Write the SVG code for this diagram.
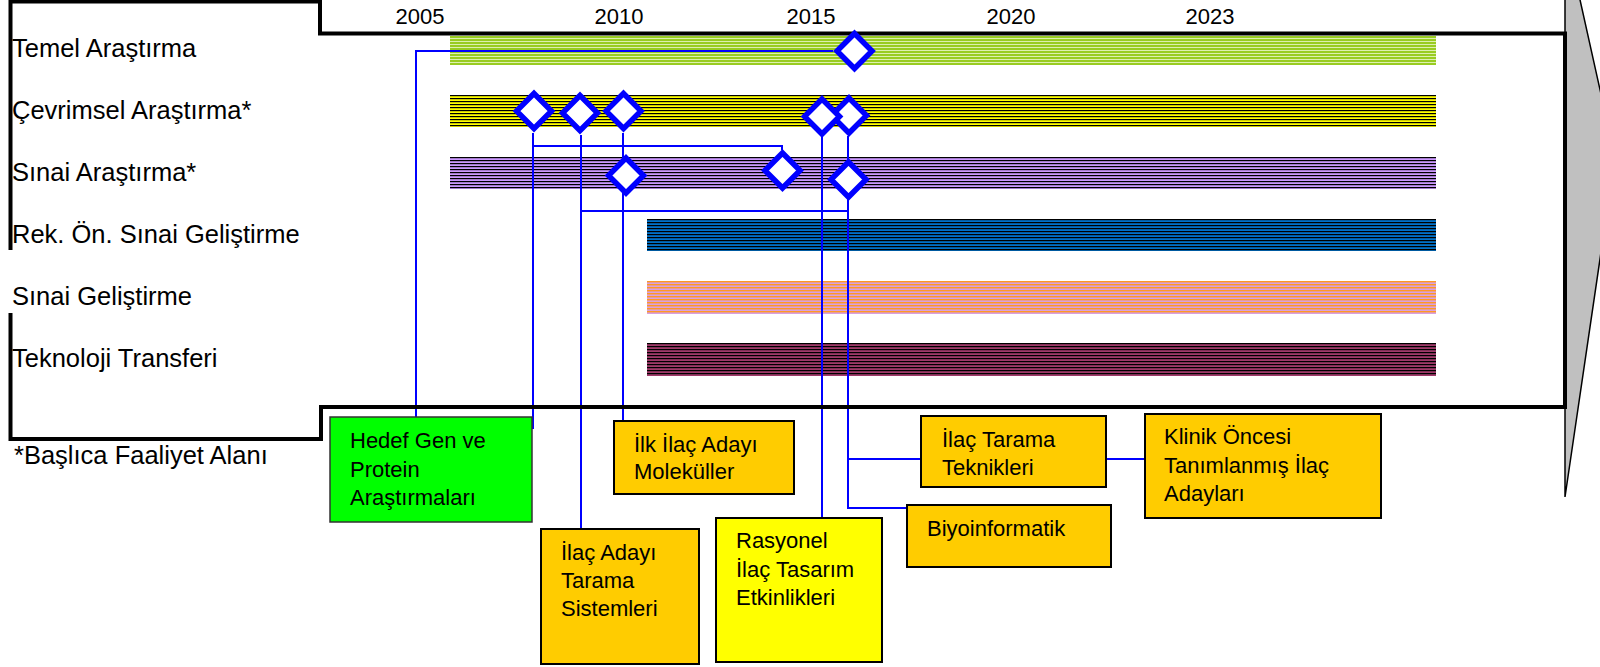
<svg xmlns="http://www.w3.org/2000/svg" width="1600" height="667" viewBox="0 0 1600 667">
<defs>
<style>
.lbl{font-family:"Liberation Sans",Arial,sans-serif;font-size:25.5px;fill:#000}
.yr{font-family:"Liberation Sans",Arial,sans-serif;font-size:22px;fill:#000;text-anchor:middle}
.bt{font-family:"Liberation Sans",Arial,sans-serif;font-size:22px;fill:#000}
.frame{fill:none;stroke:#000;stroke-width:4;stroke-linejoin:miter}
.con{fill:none;stroke:#0000FF;stroke-width:2}
.dia{fill:#fff;stroke:#0000FF;stroke-width:5.5;stroke-linejoin:miter}
.box{stroke:#000;stroke-width:2}
.or{fill:#FFCC00}
</style>
<pattern id="pGreen" patternUnits="userSpaceOnUse" x="0" y="36" width="4" height="3"><rect width="4" height="3" fill="#DDF0B0"/><rect width="4" height="2" fill="#99CC22"/></pattern>
<pattern id="pYellow" patternUnits="userSpaceOnUse" x="0" y="95" width="4" height="3"><rect width="4" height="3" fill="#FFFF00"/><rect width="4" height="1.2" fill="#000"/></pattern>
<pattern id="pPurple" patternUnits="userSpaceOnUse" x="0" y="157" width="4" height="3"><rect width="4" height="3" fill="#CC99FF"/><rect width="4" height="1.2" fill="#000"/></pattern>
<pattern id="pBlue" patternUnits="userSpaceOnUse" x="0" y="219" width="4" height="3"><rect width="4" height="3" fill="#0070C8"/><rect width="4" height="1.2" fill="#000"/></pattern>
<pattern id="pOrange" patternUnits="userSpaceOnUse" x="0" y="281" width="4" height="3"><rect width="4" height="3" fill="#D8A0E0"/><rect width="4" height="1.4" fill="#FF9922"/></pattern>
<pattern id="pMaroon" patternUnits="userSpaceOnUse" x="0" y="343" width="4" height="3"><rect width="4" height="3" fill="#A03A6A"/><rect width="4" height="1.2" fill="#000"/></pattern>
</defs>
<rect width="1600" height="667" fill="#fff"/>

<g id="arrow">
<polygon points="1565,-20 1575.6,-20 1615,157 1565,497" fill="#C0C0C0" stroke="#000" stroke-width="1.5"/>
</g>

<g id="years">
<text class="yr" x="420" y="24">2005</text>
<text class="yr" x="619" y="24">2010</text>
<text class="yr" x="811" y="24">2015</text>
<text class="yr" x="1011" y="24">2020</text>
<text class="yr" x="1210" y="24">2023</text>
</g>

<g id="row-labels">
<text class="lbl" x="12" y="57">Temel Araştırma</text>
<text class="lbl" x="12" y="119">Çevrimsel Araştırma*</text>
<text class="lbl" x="12" y="181">Sınai Araştırma*</text>
<text class="lbl" x="12" y="243">Rek. Ön. Sınai Geliştirme</text>
<text class="lbl" x="12" y="305">Sınai Geliştirme</text>
<text class="lbl" x="12" y="367">Teknoloji Transferi</text>
<text class="lbl" x="14" y="464">*Başlıca Faaliyet Alanı</text>
</g>

<g id="bars">
<rect x="450" y="36" width="986" height="29" fill="url(#pGreen)"/>
<rect x="450" y="95" width="986" height="32" fill="url(#pYellow)"/>
<rect x="450" y="157" width="986" height="32" fill="url(#pPurple)"/>
<rect x="647" y="219" width="789" height="32" fill="url(#pBlue)"/>
<rect x="647" y="281" width="789" height="33" fill="url(#pOrange)"/>
<rect x="647" y="343" width="789" height="33" fill="url(#pMaroon)"/>
</g>

<g id="connectors">
<path class="con" d="M833 51 H416 V417"/>
<path class="con" d="M533 133 V429"/>
<path class="con" d="M533 146 H782 V150"/>
<path class="con" d="M581 135 V529"/>
<path class="con" d="M581 211 H848"/>
<path class="con" d="M623 133 V421"/>
<path class="con" d="M822 137 V518"/>
<path class="con" d="M848 136 V508 H907"/>
<path class="con" d="M848 459 H921"/>
<path class="con" d="M1106 459 H1145"/>
</g>

<g id="frame">
<path class="frame" d="M10.5 250 V1.5 H320 V33.5 H1565 V407 H321 V439 H10.5 V313"/>
</g>

<g id="milestones">
<path class="dia" d="M854.5 33.5 L872 51 L854.5 68.5 L837 51 Z"/>
<path class="dia" d="M534 93.5 L551.5 111 L534 128.5 L516.5 111 Z"/>
<path class="dia" d="M580 95.5 L597.5 113 L580 130.5 L562.5 113 Z"/>
<path class="dia" d="M623.5 93.5 L641 111 L623.5 128.5 L606 111 Z"/>
<path class="dia" d="M849 98 L866.5 115.5 L849 133 L831.5 115.5 Z"/>
<path class="dia" d="M822 99 L839.5 116.5 L822 134 L804.5 116.5 Z"/>
<path class="dia" d="M626 158 L643.5 175.5 L626 193 L608.5 175.5 Z"/>
<path class="dia" d="M782.5 153 L800 170.5 L782.5 188 L765 170.5 Z"/>
<path class="dia" d="M848.5 162 L866 179.5 L848.5 197 L831 179.5 Z"/>
</g>

<g id="node-hedef">
<rect x="330" y="417" width="202" height="105" fill="#00FF00" stroke="#333" stroke-width="1.5"/>
<text class="bt" x="350" y="448">Hedef Gen ve</text>
<text class="bt" x="350" y="477">Protein</text>
<text class="bt" x="350" y="505">Araştırmaları</text>
</g>

<g id="node-ilk-ilac">
<rect class="box or" x="614" y="421" width="180" height="73"/>
<text class="bt" x="634" y="452">İlk İlaç Adayı</text>
<text class="bt" x="634" y="479">Moleküller</text>
</g>

<g id="node-tarama-sistemleri">
<rect class="box or" x="541" y="529" width="158" height="135"/>
<text class="bt" x="561" y="560">İlaç Adayı</text>
<text class="bt" x="561" y="588">Tarama</text>
<text class="bt" x="561" y="616">Sistemleri</text>
</g>

<g id="node-rasyonel">
<rect class="box" x="716" y="518" width="166" height="144" fill="#FFFF00"/>
<text class="bt" x="736" y="548">Rasyonel</text>
<text class="bt" x="736" y="577">İlaç Tasarım</text>
<text class="bt" x="736" y="605">Etkinlikleri</text>
</g>

<g id="node-tarama-teknikleri">
<rect class="box or" x="921" y="416" width="185" height="71"/>
<text class="bt" x="942" y="447">İlaç Tarama</text>
<text class="bt" x="942" y="475">Teknikleri</text>
</g>

<g id="node-biyoinformatik">
<rect class="box or" x="907" y="505" width="204" height="62"/>
<text class="bt" x="927" y="536">Biyoinformatik</text>
</g>

<g id="node-klinik">
<rect class="box or" x="1145" y="414" width="236" height="104"/>
<text class="bt" x="1164" y="444">Klinik Öncesi</text>
<text class="bt" x="1164" y="473">Tanımlanmış İlaç</text>
<text class="bt" x="1164" y="501">Adayları</text>
</g>
</svg>
